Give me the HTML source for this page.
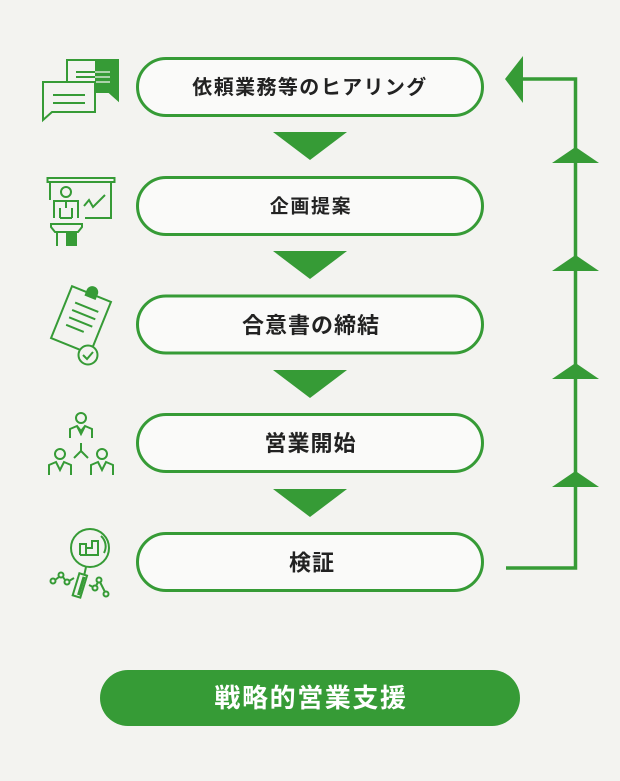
<!DOCTYPE html>
<html><head><meta charset="utf-8"><style>
html,body{margin:0;padding:0;background:#f3f3f0;}
svg{display:block;}
.t{font-family:"Liberation Sans","Noto Sans CJK JP",sans-serif;font-weight:bold;fill:#222222;}
</style></head><body>
<svg width="620" height="781" viewBox="0 0 620 781" xmlns="http://www.w3.org/2000/svg">
<rect width="620" height="781" fill="#f3f3f0"/>
<g fill="#fafaf9" stroke="#369b36" stroke-width="3">
<rect x="137.5" y="58.5" width="345" height="57" rx="28.5"/>
<rect x="137.5" y="177.5" width="345" height="57" rx="28.5"/>
<rect x="137.5" y="296" width="345" height="57" rx="28.5"/>
<rect x="137.5" y="414.5" width="345" height="57" rx="28.5"/>
<rect x="137.5" y="533.5" width="345" height="57" rx="28.5"/>
</g>
<g fill="#369b36">
<polygon points="273,132 347,132 310,160"/>
<polygon points="273,251 347,251 310,279"/>
<polygon points="273,370 347,370 310,398"/>
<polygon points="273,489 347,489 310,517"/>
</g>
<text class="t" x="310" y="88" text-anchor="middle" dominant-baseline="central" font-size="20" letter-spacing="1.4">依頼業務等のヒアリング</text>
<text class="t" x="311" y="207" text-anchor="middle" dominant-baseline="central" font-size="19" letter-spacing="1.6">企画提案</text>
<text class="t" x="311" y="325.5" text-anchor="middle" dominant-baseline="central" font-size="22" letter-spacing="1">合意書の締結</text>
<text class="t" x="310.5" y="443.5" text-anchor="middle" dominant-baseline="central" font-size="22" letter-spacing="1">営業開始</text>
<text class="t" x="312" y="563" text-anchor="middle" dominant-baseline="central" font-size="22" letter-spacing="1">検証</text>
<!-- return connector -->
<g stroke="#369b36" stroke-width="3.5" fill="none">
<polyline points="506,568 575.5,568 575.5,79 520,79"/>
</g>
<g fill="#369b36">
<polygon points="505,79 523,56 523,103"/>
<polygon points="575.5,147 552,163 599,163"/>
<polygon points="575.5,255 552,271 599,271"/>
<polygon points="575.5,363 552,379 599,379"/>
<polygon points="575.5,471 552,487 599,487"/>
</g>
<rect x="100" y="670" width="420" height="56" rx="28" fill="#369b36"/>
<text x="311" y="698" text-anchor="middle" dominant-baseline="central" font-size="26" letter-spacing="1.6" font-weight="bold" fill="#ffffff" font-family="Liberation Sans, Noto Sans CJK JP, sans-serif">戦略的営業支援</text>
<!-- icon 1: chat -->
<g stroke="#369b36" stroke-width="2" fill="none">
<path d="M67,91 L67,60 L118,60 L118,100 L109,92 L96,92" fill="#f3f3f0"/>
<rect x="95" y="60" width="23" height="32" fill="#369b36" stroke="none"/>
<polygon points="108,91 118,91 118,100" fill="#369b36" stroke="none"/>
<path d="M76,72 L110,72 M76,77 L110,77 M76,82 L110,82" stroke-width="2"/>
<path d="M95,72 L110,72 M95,77 L110,77 M95,82 L110,82" stroke="#f3f3f0" stroke-width="1.2"/>
<path d="M43,120 L43,82 L95,82 L95,112 L52,112 Z" fill="#f3f3f0"/>
<path d="M53,95 L85,95 M53,103 L85,103"/>
</g>
<!-- icon 2: presenter -->
<g stroke="#369b36" stroke-width="2" fill="none">
<rect x="47.5" y="178" width="67" height="4"/>
<path d="M50,182 L50,200 M111,182 L111,218 L85,218"/>
<circle cx="66" cy="192" r="5"/>
<path d="M54,218 L54,201 L78,201 L78,218 M60,218 L60,208 M72,218 L72,208 M66,201 L66,208 M60,218 L72,218"/>
<polyline points="84,206 89,200 93,207 105,195"/>
<path d="M51,224 L82,224 L82,227 L78,232 L55,232 L51,227 Z"/>
<path d="M57,232 L57,246 M67,232 L67,246"/>
<rect x="67" y="232" width="10" height="14" fill="#369b36" stroke="none"/>
</g>
<!-- icon 3: clipboard -->
<g stroke="#369b36" stroke-width="2" fill="none">
<g transform="rotate(22 81 320)">
<rect x="60" y="292" width="42" height="56" fill="#f3f3f0"/>
<path d="M69,306 L94,306 M69,314 L94,314 M69,322 L94,322 M69,330 L88,330"/>
<path d="M76,295 L76,290 A5,5 0 0 1 86,290 L86,295 Z" fill="#369b36"/>
</g>
<circle cx="88" cy="355" r="9.5" fill="#f3f3f0"/>
<polyline points="83,355 87,359 93,352"/>
</g>
<!-- icon 4: people -->
<g stroke="#369b36" stroke-width="2" fill="none">
<circle cx="81" cy="418" r="5"/>
<path d="M70,438 L70,429 L77,426 L81,434 L85,426 L92,429 L92,438 M77,426 L81,431 L85,426"/>
<path d="M81,443 L81,451 L74,458 M81,451 L88,458"/>
<circle cx="60" cy="454" r="5"/>
<path d="M49,475 L49,465 L56,462 L60,470 L64,462 L71,465 L71,475"/>
<circle cx="102" cy="454" r="5"/>
<path d="M91,475 L91,465 L98,462 L102,470 L106,462 L113,465 L113,475"/>
</g>
<!-- icon 5: magnifier -->
<g stroke="#369b36" stroke-width="2" fill="none">
<circle cx="90" cy="548" r="19"/>
<path d="M101,536 A14,14 0 0 1 104,553" />
<path d="M80,555 L80,544 L86,544 L86,555 M86,548 L92,548 L92,541 L98,541 L98,555 L80,555"/>
<path d="M86,567 L84,576"/>
<g transform="rotate(17 80 585)"><rect x="76" y="574" width="8" height="23" fill="#f3f3f0"/><rect x="80" y="576" width="3" height="19" fill="#369b36" stroke="none"/></g>
<circle cx="53" cy="581" r="2.5"/><circle cx="61" cy="575" r="2.5"/><circle cx="67" cy="582" r="2.5"/>
<path d="M55,580 L59,577 M63,577 L65,580 M69,581 L74,578"/>
<circle cx="95" cy="588" r="2.5"/><circle cx="99" cy="580" r="2.5"/><circle cx="106" cy="594" r="2.5"/>
<path d="M89,585 L93,587 M96,586 L98,582 M100,582 L105,592"/>
</g>
</svg>
</body></html>
